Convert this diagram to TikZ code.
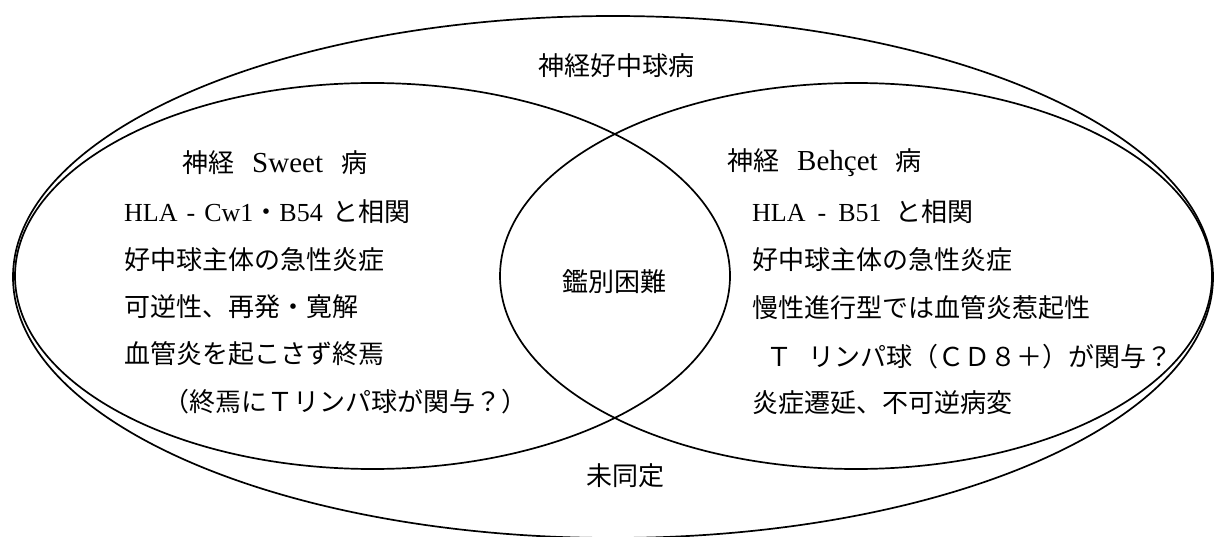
\documentclass[tikz,border=0pt]{standalone}
\usepackage{fontspec}
\setmainfont{Liberation Serif}
\newfontfamily\jp{Noto Sans CJK JP}
\newcommand{\lat}[1]{{\rmfamily\fontsize{29}{32}\selectfont #1}}
\newcommand{\blat}[1]{{\rmfamily\fontsize{26}{30}\selectfont #1}}
\begin{document}
\begin{tikzpicture}[x=1pt,y=-1pt,
  ring/.style={draw=black, line width=1.7pt},
  lbl/.style={inner sep=0pt, font=\jp\fontsize{26}{30}\selectfont},
  row/.style={lbl, anchor=west}]
\useasboundingbox (0,0) rectangle (1214,537);
% ellipses
\draw[ring] (613,277) ellipse [x radius=600pt, y radius=261pt];
\draw[ring] (372.5,276) ellipse [x radius=357.5pt, y radius=193pt];
\draw[ring] (856,276) ellipse [x radius=356pt, y radius=193pt];
% labels
\node[lbl] (outer) at (616,66) {神経好中球病};
\node[lbl] (diff) at (614,282) {鑑別困難};
\node[lbl] (unid) at (625,476) {未同定};
% left set
\node[row] (sw) at (182,163) {神経\hspace{18pt}\lat{Sweet}\hspace{18pt}病};
\node[row] (s1) at (124,212) {\blat{HLA\hspace{9pt}-\hspace{9pt}Cw1}・\blat{B54}\hspace{10pt}と相関};
\node[row] (s2) at (124,260) {好中球主体の急性炎症};
\node[row] (s3) at (124,307) {可逆性、再発・寛解};
\node[row] (s4) at (124,354) {血管炎を起こさず終焉};
\node[row] (s5) at (163,402) {（終焉にＴリンパ球が関与？）};
% right set
\node[row] (bh) at (727,163) {神経\hspace{18pt}\lat{Behçet}\hspace{18pt}病};
\node[row] (b1) at (752,212) {\blat{HLA\hspace{12pt}-\hspace{12pt}B51}\hspace{14pt}と相関};
\node[row] (b2) at (752,260) {好中球主体の急性炎症};
\node[row] (b3) at (752,308) {慢性進行型では血管炎惹起性};
\node[row] (b4) at (766,357) {Ｔ\hspace{16pt}リンパ球（ＣＤ８＋）が関与？};
\node[row] (b5) at (752,403) {炎症遷延、不可逆病変};
\end{tikzpicture}
\end{document}
